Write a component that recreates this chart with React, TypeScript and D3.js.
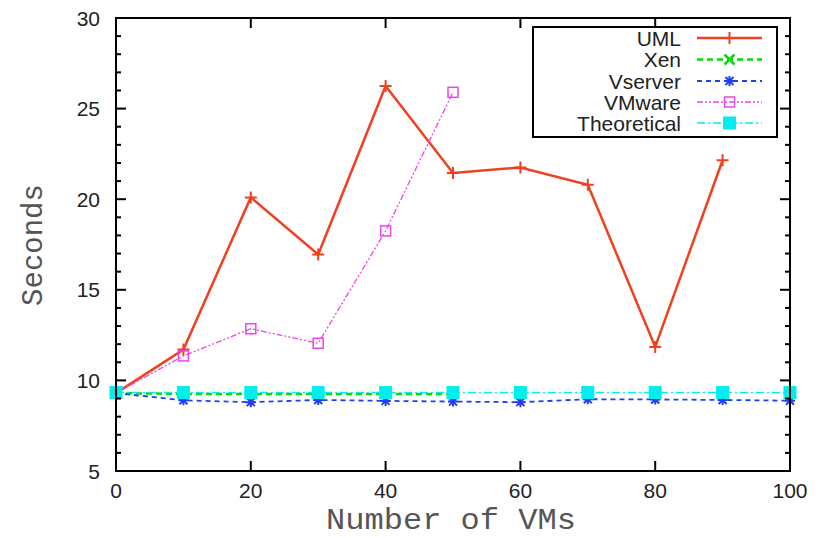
import React from "react";
import * as d3 from "d3";

const umlX = [0, 10, 20, 30, 40, 50, 60, 70, 80, 90];
const umlY = [9.3, 11.7, 20.1, 16.95, 26.25, 21.45, 21.75, 20.8, 11.85, 22.15];
const xenX = [0, 10, 20, 30, 40, 50];
const xenY = [9.3, 9.25, 9.25, 9.25, 9.25, 9.25];
const vsX = [0, 10, 20, 30, 40, 50, 60, 70, 80, 90, 100];
const vsY = [9.3, 8.9, 8.8, 8.92, 8.87, 8.83, 8.8, 8.96, 8.95, 8.92, 8.88];
const vmX = [0, 10, 20, 30, 40, 50];
const vmY = [9.3, 11.35, 12.85, 12.05, 18.25, 25.9];
const thX = [0, 10, 20, 30, 40, 50, 60, 70, 80, 90, 100];
const thY = [9.33, 9.33, 9.33, 9.33, 9.33, 9.33, 9.33, 9.33, 9.33, 9.33, 9.33];

const xTicks = [0, 20, 40, 60, 80, 100];
const yTicks = [5, 10, 15, 20, 25, 30];
const yMinor = d3.range(5, 31, 1);

const seriesNames = ["UML", "Xen", "Vserver", "VMware", "Theoretical"];

const L = 116, R = 790, T = 18, B = 471;
const sans = "Liberation Sans, Arial, sans-serif";
const mono = "Liberation Mono, Courier New, monospace";

function Marker({ kind, x, y, color }: { kind: string; x: number; y: number; color: string }) {
  const s = 6;
  if (kind === "plus")
    return <path d={`M${x - s},${y}H${x + s}M${x},${y - s}V${y + s}`} stroke={color} strokeWidth={2} />;
  if (kind === "x")
    return <path d={`M${x - 5},${y - 5}L${x + 5},${y + 5}M${x - 5},${y + 5}L${x + 5},${y - 5}`} stroke={color} strokeWidth={2.5} />;
  if (kind === "star")
    return (
      <path
        d={`M${x - 5},${y}H${x + 5}M${x},${y - 5}V${y + 5}M${x - 4},${y - 4}L${x + 4},${y + 4}M${x - 4},${y + 4}L${x + 4},${y - 4}`}
        stroke={color}
        strokeWidth={2}
      />
    );
  if (kind === "sq")
    return <rect x={x - 5} y={y - 5} width={10} height={10} fill="none" stroke={color} strokeWidth={1.5} />;
  return <rect x={x - 6.5} y={y - 6.5} width={13} height={13} fill={color} />;
}

export default function App() {
  const x = d3.scaleLinear().domain([0, 100]).range([L, R]);
  const y = d3.scaleLinear().domain([5, 30]).range([B, T]);
  const line = d3
    .line<[number, number]>()
    .x((d) => x(d[0]))
    .y((d) => y(d[1]));

  const series = [
    { name: seriesNames[0], xs: umlX, ys: umlY, color: "#f0401e", dash: "", w: 2.5, m: "plus" },
    { name: seriesNames[1], xs: xenX, ys: xenY, color: "#00dd00", dash: "6,4", w: 2.5, m: "x" },
    { name: seriesNames[2], xs: vsX, ys: vsY, color: "#2040ee", dash: "5,4", w: 1.8, m: "star" },
    { name: seriesNames[3], xs: vmX, ys: vmY, color: "#ee44ee", dash: "6,2,2,2,2,2", w: 1.3, m: "sq" },
    { name: seriesNames[4], xs: thX, ys: thY, color: "#00eeee", dash: "8,3,2,3", w: 1.5, m: "fsq" },
  ];

  const legY = [38, 59.5, 81, 102, 123];

  return (
    <svg width={819} height={538} style={{ position: "absolute", left: 0, top: 0 }}>
      <rect width={819} height={538} fill="#fff" />
      {series.map((s) => (
        <g key={s.name}>
          <path
            d={line(s.xs.map((v, i) => [v, s.ys[i]] as [number, number])) || ""}
            fill="none"
            stroke={s.color}
            strokeWidth={s.w}
            strokeDasharray={s.dash}
          />
          {s.xs.map((v, i) => (
            <Marker key={i} kind={s.m} x={x(v)} y={y(s.ys[i])} color={s.color} />
          ))}
        </g>
      ))}
      {/* axes frame */}
      <rect x={L} y={T} width={R - L} height={B - T} fill="none" stroke="#000" strokeWidth={2} />
      {yMinor.map((t) => {
        const major = t % 5 === 0;
        const len = major ? 10 : 5;
        return (
          <g key={t}>
            <line x1={L} x2={L + len} y1={y(t)} y2={y(t)} stroke="#000" strokeWidth={2} />
            <line x1={R} x2={R - len} y1={y(t)} y2={y(t)} stroke="#000" strokeWidth={2} />
          </g>
        );
      })}
      {xTicks.map((t) => (
        <g key={t}>
          <line x1={x(t)} x2={x(t)} y1={B} y2={B - 10} stroke="#000" strokeWidth={2} />
          <line x1={x(t)} x2={x(t)} y1={T} y2={T + 10} stroke="#000" strokeWidth={2} />
          <text x={x(t)} y={498} textAnchor="middle" fontFamily={sans} fontSize={21} fill="#222">
            {t}
          </text>
        </g>
      ))}
      {yTicks.map((t) => (
        <text key={t} x={100} y={y(t) + 7.5} textAnchor="end" fontFamily={sans} fontSize={21} fill="#222">
          {t}
        </text>
      ))}
      <text x={451} y={529} textAnchor="middle" fontFamily={mono} fontSize={29} fill="#555" textLength={250} lengthAdjust="spacingAndGlyphs">
        Number of VMs
      </text>
      <text
        transform={`translate(42,245) rotate(-90)`}
        textAnchor="middle"
        fontFamily={mono}
        fontSize={29}
        fill="#555"
      >
        Seconds
      </text>
      {/* legend */}
      <rect x={533} y={27} width={244} height={110} fill="#fff" stroke="#000" strokeWidth={2} />
      {series.map((s, i) => (
        <g key={s.name}>
          <text x={681} y={legY[i] + 7.5} textAnchor="end" fontFamily={sans} fontSize={21} fill="#222">
            {s.name}
          </text>
          <line x1={697} x2={762} y1={legY[i]} y2={legY[i]} stroke={s.color} strokeWidth={s.w} strokeDasharray={s.dash} />
          <Marker kind={s.m} x={729.5} y={legY[i]} color={s.color} />
        </g>
      ))}
    </svg>
  );
}
